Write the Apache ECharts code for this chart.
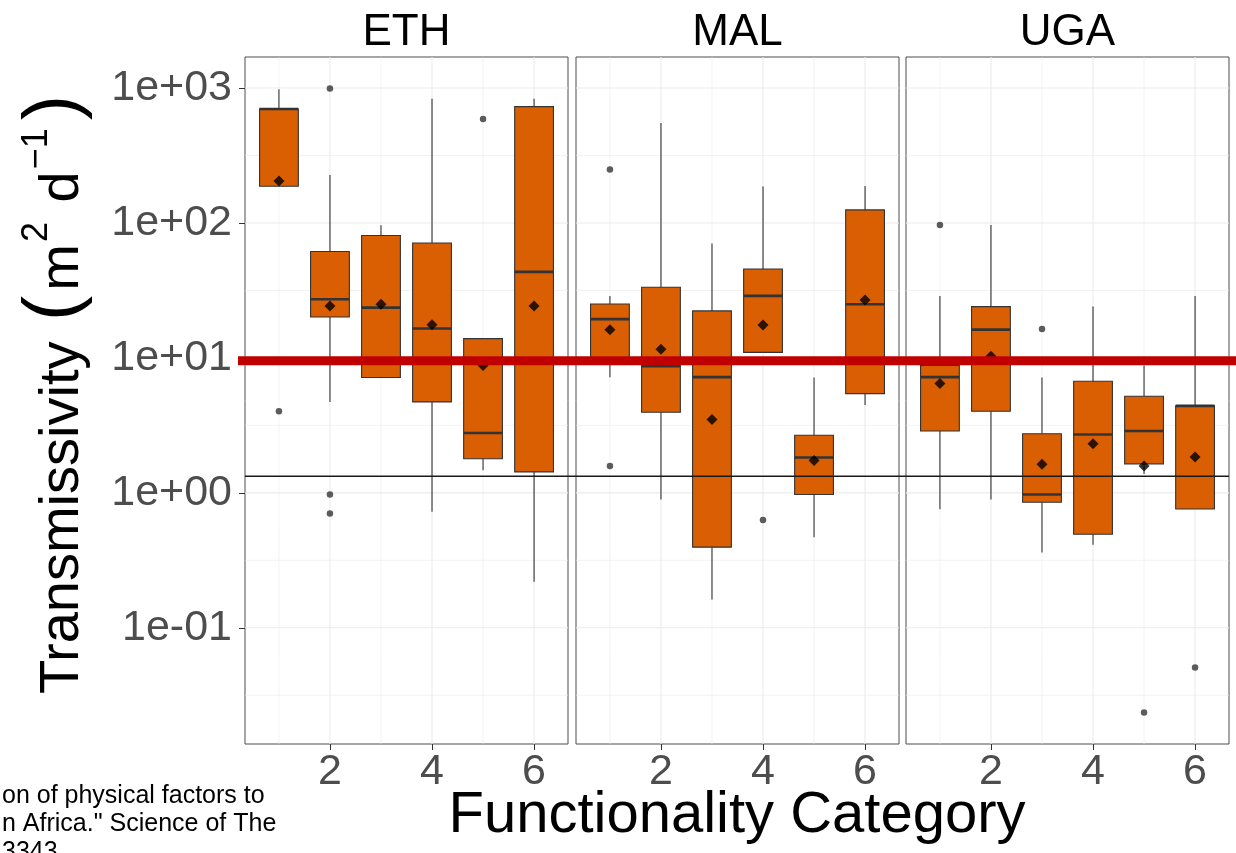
<!DOCTYPE html>
<html>
<head>
<meta charset="utf-8">
<script src="https://cdn.jsdelivr.net/npm/echarts@6/dist/echarts.min.js"></script>
<style>
html,body{margin:0;padding:0;background:#fff;}
#c{width:1236px;height:853px;}
</style>
</head>
<body>
<div id="c"></div>
<script>
// ---------------- DATA ----------------
const categories = [1, 2, 3, 4, 5, 6];
const facets = ['ETH', 'MAL', 'UGA'];
const xTickLabels = [2, 4, 6];
const yTickLabels = [0.1, 1, 10, 100, 1000];
const yMinorBreaks = [0.03162, 0.3162, 3.162, 31.62, 316.2];
const xMinorBreaks = [1, 3, 5];

// box stats per category: [lower whisker, Q1, median, Q3, upper whisker]
const boxETH = [
  [187, 187, 700, 700, 980],
  [4.72, 20.1, 27.2, 61.4, 227],
  [7.16, 7.16, 23.6, 80.7, 96.2],
  [0.723, 4.72, 16.5, 71.1, 834],
  [1.47, 1.79, 2.78, 13.9, 13.9],
  [0.219, 1.43, 43.4, 728, 834]
];
const boxMAL = [
  [7.2, 9.3, 19.4, 25.1, 28.8],
  [0.893, 3.96, 8.7, 33.4, 551],
  [0.162, 0.396, 7.2, 22.3, 70.4],
  [11.0, 11.0, 28.8, 45.6, 186],
  [0.468, 0.973, 1.83, 2.67, 7.17],
  [4.47, 5.44, 25.0, 125, 188]
];
const boxUGA = [
  [0.757, 2.87, 7.2, 8.8, 28.8],
  [0.893, 4.03, 16.2, 24.0, 96.6],
  [0.362, 0.853, 0.973, 2.74, 7.17],
  [0.412, 0.494, 2.71, 6.71, 24.0],
  [1.38, 1.64, 2.87, 5.2, 8.8],
  [0.760, 0.760, 4.41, 4.41, 28.8]
];
const meanETH = [205, 24.3, 25.0, 17.6, 8.8, 24.2];
const meanMAL = [16.2, 11.6, 3.50, 17.5, 1.74, 26.9];
const meanUGA = [6.46, 10.3, 1.63, 2.31, 1.58, 1.84];
// outliers: [category, value]
const outETH = [[1, 4.03], [2, 990], [2, 0.973], [2, 0.703], [5, 589]];
const outMAL = [[1, 249], [1, 1.58], [4, 0.63]];
const outUGA = [[1, 96.6], [3, 16.4], [5, 0.0236], [6, 0.0509]];

const refRed = 9.53;
const refBlack = 1.33;

const yMin = 0.01377, yMax = 1698;
const xMin = 0.335, xMax = 6.665;

// ---------------- STYLE ----------------
const FONT = 'Liberation Sans, Arial, Helvetica, sans-serif';
const BOX_FILL = '#D95F02';
const INK = '#333333';
const GRIDC = '#ebebeb';
const BOX_W = 0.76;

const boxes = [boxETH, boxMAL, boxUGA];
const means = [meanETH, meanMAL, meanUGA];
const outs = [outETH, outMAL, outUGA];

const panelLeft = [245, 576, 906];
const panelW = 323;
const panelTop = 57;
const panelH = 687;

function fmtLog(v) {
  const e = Math.round(Math.log10(v));
  return '1e' + (e < 0 ? '-' : '+') + String(Math.abs(e)).padStart(2, '0');
}

function renderBox(params, api) {
  const x = api.value(0);
  const lo = api.value(1), q1 = api.value(2), med = api.value(3), q3 = api.value(4), hi = api.value(5);
  const h = BOX_W / 2;
  const tl = api.coord([x - h, q3]);
  const br = api.coord([x + h, q1]);
  const pHi = api.coord([x, hi]), pQ3 = api.coord([x, q3]);
  const pQ1 = api.coord([x, q1]), pLo = api.coord([x, lo]);
  const mL = api.coord([x - h, med]), mR = api.coord([x + h, med]);
  return {
    type: 'group',
    children: [
      { type: 'line', shape: { x1: pHi[0], y1: pHi[1], x2: pQ3[0], y2: pQ3[1] }, style: { stroke: INK, lineWidth: 1.1 } },
      { type: 'line', shape: { x1: pQ1[0], y1: pQ1[1], x2: pLo[0], y2: pLo[1] }, style: { stroke: INK, lineWidth: 1.1 } },
      { type: 'rect', shape: { x: tl[0], y: tl[1], width: br[0] - tl[0], height: br[1] - tl[1] }, style: { fill: BOX_FILL, stroke: INK, lineWidth: 1.1 } },
      { type: 'line', shape: { x1: mL[0], y1: mL[1], x2: mR[0], y2: mR[1] }, style: { stroke: INK, lineWidth: 2.6 } }
    ]
  };
}

function hLines(width) {
  return function (params, api) {
    const v = api.value(1);
    const a = api.coord([xMin, v]);
    const b = api.coord([xMax, v]);
    return { type: 'line', shape: { x1: a[0], y1: a[1], x2: b[0], y2: b[1] }, style: { stroke: GRIDC, lineWidth: width } };
  };
}
function vLines(width) {
  return function (params, api) {
    const v = api.value(0);
    const a = api.coord([v, yMin]);
    const b = api.coord([v, yMax]);
    return { type: 'line', shape: { x1: a[0], y1: a[1], x2: b[0], y2: b[1] }, style: { stroke: GRIDC, lineWidth: width } };
  };
}

const grid = [], xAxis = [], yAxis = [], series = [];

for (let i = 0; i < 3; i++) {
  grid.push({
    left: panelLeft[i], top: panelTop, width: panelW, height: panelH,
    show: true, borderColor: '#4d4d4d', borderWidth: 1, backgroundColor: 'transparent'
  });
  xAxis.push({
    gridIndex: i, type: 'value', min: xMin, max: xMax,
    splitLine: { show: false }, axisLine: { show: false },
    axisTick: { show: true, customValues: xTickLabels, length: 6, lineStyle: { color: INK, width: 1 } },
    axisLabel: {
      customValues: xTickLabels, fontSize: 43, color: '#4d4d4d', fontFamily: FONT, margin: 7,
      formatter: function (v) { return xTickLabels.indexOf(v) >= 0 ? String(v) : ''; }
    }
  });
  yAxis.push({
    gridIndex: i, type: 'log', logBase: 10, min: yMin, max: yMax,
    splitLine: { show: false }, axisLine: { show: false },
    axisTick: { show: i === 0, customValues: yTickLabels, length: 6, lineStyle: { color: INK, width: 1 } },
    axisLabel: {
      show: i === 0, customValues: yTickLabels, fontSize: 43, color: '#4d4d4d', fontFamily: FONT, margin: 13,
      formatter: function (v) {
        const l = Math.log10(v);
        return Math.abs(l - Math.round(l)) < 1e-6 ? fmtLog(v) : '';
      }
    }
  });
  // grid lines
  series.push({ type: 'custom', xAxisIndex: i, yAxisIndex: i, silent: true, z: 0, renderItem: hLines(0.6),
    encode: { x: 0, y: 1 }, data: yMinorBreaks.map(v => [xMin, v]) });
  series.push({ type: 'custom', xAxisIndex: i, yAxisIndex: i, silent: true, z: 0, renderItem: hLines(1.1),
    encode: { x: 0, y: 1 }, data: yTickLabels.map(v => [xMin, v]) });
  series.push({ type: 'custom', xAxisIndex: i, yAxisIndex: i, silent: true, z: 0, renderItem: vLines(0.6),
    encode: { x: 0, y: 1 }, data: xMinorBreaks.map(v => [v, yMin]) });
  series.push({ type: 'custom', xAxisIndex: i, yAxisIndex: i, silent: true, z: 0, renderItem: vLines(1.1),
    encode: { x: 0, y: 1 }, data: xTickLabels.map(v => [v, yMin]) });
  // boxes
  series.push({
    type: 'custom', name: facets[i], xAxisIndex: i, yAxisIndex: i, z: 2, silent: true,
    renderItem: renderBox,
    dimensions: ['cat', 'lo', 'q1', 'med', 'q3', 'hi'],
    encode: { x: 0, y: [1, 2, 3, 4, 5] },
    data: categories.map((c, k) => [c].concat(boxes[i][k]))
  });
  // outliers
  series.push({
    type: 'scatter', xAxisIndex: i, yAxisIndex: i, z: 3, silent: true,
    symbol: 'circle', symbolSize: 6.5, itemStyle: { color: INK },
    data: outs[i]
  });
  // means
  series.push({
    type: 'scatter', xAxisIndex: i, yAxisIndex: i, z: 4, silent: true,
    symbol: 'diamond', symbolSize: 11, itemStyle: { color: '#000' },
    data: categories.map((c, k) => [c, means[i][k]])
  });
}

// overlay grids for reference lines
grid.push({ left: 238, top: panelTop, width: 998, height: panelH, show: false });
grid.push({ left: 245, top: panelTop, width: 984, height: panelH, show: false });
for (let g = 3; g < 5; g++) {
  xAxis.push({ gridIndex: g, type: 'value', min: 0, max: 1, show: false });
  yAxis.push({ gridIndex: g, type: 'log', min: yMin, max: yMax, show: false });
}
series.push({
  type: 'line', xAxisIndex: 4, yAxisIndex: 4, z: 8, silent: true, symbol: 'none',
  lineStyle: { color: '#1a1a1a', width: 1.5 },
  data: [[0, refBlack], [1, refBlack]]
});
series.push({
  type: 'line', xAxisIndex: 3, yAxisIndex: 3, z: 9, silent: true, symbol: 'none',
  lineStyle: { color: '#C00000', width: 9 },
  data: [[0, refRed], [1, refRed]]
});

const graphic = [];
facets.forEach((f, i) => {
  graphic.push({
    type: 'text', x: panelLeft[i] + panelW / 2, y: 33, silent: true,
    style: { text: f, fontSize: 44, fontFamily: FONT, fill: '#000', align: 'center', verticalAlign: 'middle' }
  });
});
graphic.push({
  type: 'text', x: 737, y: 816, silent: true,
  style: { text: 'Functionality Category', fontSize: 58, fontFamily: FONT, fill: '#000', align: 'center', verticalAlign: 'middle' }
});
graphic.push({
  type: 'text', x: 55, y: 392, rotation: Math.PI / 2, silent: true,
  style: {
    text: '{t|Transmissivity }{p|(}{t|m}{a|2}{t| d}{b|\u22121}{p|)}',
    align: 'center', verticalAlign: 'middle', fill: '#000', fontFamily: FONT,
    rich: {
      t: { fontSize: 56, fontFamily: FONT, fill: '#000', verticalAlign: 'bottom', lineHeight: 62 },
      p: { fontSize: 76, fontFamily: FONT, fill: '#000', verticalAlign: 'middle', lineHeight: 72, padding: [0, 5, 0, 5] },
      a: { fontSize: 36, fontFamily: FONT, fill: '#000', verticalAlign: 'top', lineHeight: 60, padding: [0, 4, 0, 2] },
      b: { fontSize: 36, fontFamily: FONT, fill: '#000', verticalAlign: 'top', lineHeight: 44, padding: [0, 3, 0, 2] }
    }
  }
});
const captionLines = ['on of physical factors to', 'n Africa." Science of The', '3343'];
captionLines.forEach((t, k) => {
  graphic.push({
    type: 'text', x: 2, y: 796 + k * 28, silent: true,
    style: { text: t, fontSize: 25, fontFamily: FONT, fill: '#000', align: 'left', verticalAlign: 'middle' }
  });
});

const chart = echarts.init(document.getElementById('c'), null, { renderer: 'canvas' });
chart.setOption({
  animation: false,
  backgroundColor: '#fff',
  textStyle: { fontFamily: FONT },
  grid, xAxis, yAxis, series, graphic
});
</script>
</body>
</html>
